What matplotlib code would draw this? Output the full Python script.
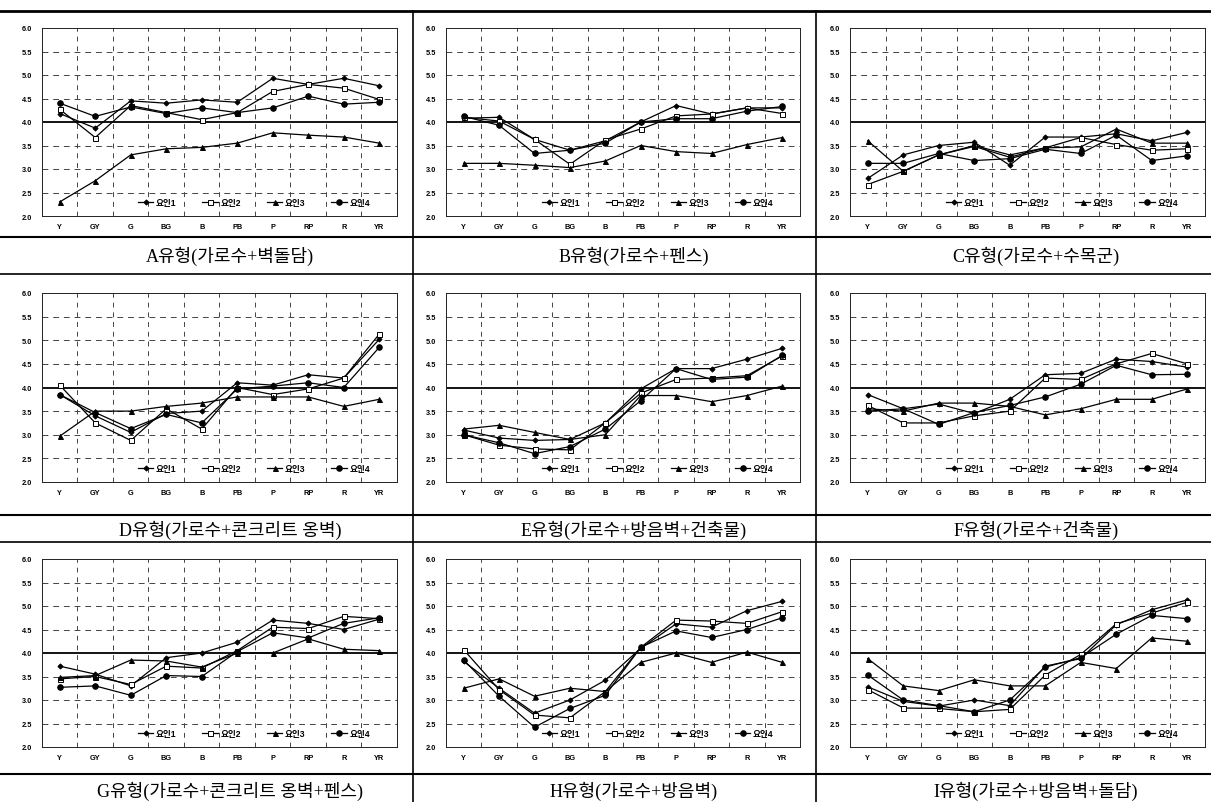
import numpy as np
import matplotlib.pyplot as plt
from matplotlib.lines import Line2D

plt.rcParams['font.family'] = ['Liberation Sans', 'Noto Sans CJK KR']

# ---------------- data ----------------
categories = ['Y', 'GY', 'G', 'BG', 'B', 'PB', 'P', 'RP', 'R', 'YR']
factor_names = ['요인1', '요인2', '요인3', '요인4']
captions = ['A유형(가로수+벽돌담)', 'B유형(가로수+펜스)', 'C유형(가로수+수목군)',
            'D유형(가로수+콘크리트 옹벽)', 'E유형(가로수+방음벽+건축물)', 'F유형(가로수+건축물)',
            'G유형(가로수+콘크리트 옹벽+펜스)', 'H유형(가로수+방음벽)', 'I유형(가로수+방음벽+돌담)']

A_1 = [4.18, 3.87, 4.45, 4.40, 4.47, 4.42, 4.93, 4.80, 4.93, 4.77]
A_2 = [4.27, 3.67, 4.35, 4.20, 4.05, 4.20, 4.65, 4.80, 4.72, 4.48]
A_3 = [2.30, 2.75, 3.30, 3.43, 3.46, 3.55, 3.77, 3.72, 3.68, 3.55]
A_4 = [4.40, 4.12, 4.32, 4.18, 4.30, 4.20, 4.30, 4.55, 4.38, 4.42]

B_1 = [4.08, 4.10, 3.63, 3.40, 3.60, 4.00, 4.35, 4.17, 4.30, 4.30]
B_2 = [4.10, 4.02, 3.63, 3.10, 3.62, 3.85, 4.13, 4.17, 4.30, 4.18]
B_3 = [3.12, 3.12, 3.08, 3.03, 3.17, 3.50, 3.37, 3.33, 3.52, 3.67]
B_4 = [4.12, 3.93, 3.33, 3.40, 3.55, 4.00, 4.07, 4.07, 4.23, 4.33]

C_1 = [2.80, 3.30, 3.50, 3.57, 3.08, 3.68, 3.68, 3.75, 3.60, 3.78]
C_2 = [2.67, 2.95, 3.30, 3.48, 3.25, 3.45, 3.67, 3.52, 3.40, 3.43]
C_3 = [3.60, 2.95, 3.30, 3.50, 3.30, 3.45, 3.47, 3.85, 3.55, 3.55]
C_4 = [3.12, 3.12, 3.33, 3.18, 3.22, 3.42, 3.33, 3.72, 3.18, 3.28]

D_1 = [3.85, 3.40, 3.05, 3.45, 3.50, 4.10, 4.05, 4.27, 4.20, 5.02]
D_2 = [4.05, 3.25, 2.88, 3.55, 3.12, 4.00, 3.85, 3.97, 4.20, 5.13]
D_3 = [2.97, 3.50, 3.50, 3.60, 3.67, 3.80, 3.80, 3.80, 3.60, 3.75]
D_4 = [3.85, 3.47, 3.13, 3.43, 3.25, 3.97, 4.03, 4.10, 4.00, 4.85]

E_1 = [3.10, 2.93, 2.88, 2.90, 3.25, 3.97, 4.40, 4.40, 4.60, 4.83]
E_2 = [3.00, 2.78, 2.70, 2.68, 3.25, 3.88, 4.17, 4.20, 4.25, 4.67]
E_3 = [3.12, 3.20, 3.05, 2.90, 3.00, 3.83, 3.83, 3.70, 3.83, 4.03]
E_4 = [3.00, 2.83, 2.60, 2.75, 3.12, 3.72, 4.40, 4.17, 4.22, 4.68]

F_1 = [3.85, 3.55, 3.65, 3.45, 3.75, 4.27, 4.30, 4.60, 4.55, 4.43]
F_2 = [3.62, 3.25, 3.25, 3.40, 3.50, 4.20, 4.17, 4.50, 4.72, 4.50]
F_3 = [3.55, 3.50, 3.67, 3.67, 3.60, 3.42, 3.55, 3.75, 3.75, 3.97]
F_4 = [3.50, 3.55, 3.22, 3.47, 3.62, 3.80, 4.07, 4.47, 4.27, 4.28]

G_1 = [3.72, 3.55, 3.30, 3.90, 4.00, 4.23, 4.70, 4.63, 4.50, 4.72]
G_2 = [3.45, 3.50, 3.33, 3.72, 3.68, 4.05, 4.55, 4.52, 4.78, 4.73]
G_3 = [3.48, 3.52, 3.85, 3.83, 3.70, 4.00, 4.00, 4.30, 4.08, 4.05]
G_4 = [3.27, 3.30, 3.10, 3.52, 3.50, 4.03, 4.43, 4.32, 4.63, 4.75]

H_1 = [3.82, 3.25, 2.72, 3.00, 3.42, 4.10, 4.62, 4.55, 4.90, 5.10]
H_2 = [4.07, 3.22, 2.68, 2.62, 3.18, 4.12, 4.70, 4.68, 4.63, 4.88]
H_3 = [3.25, 3.45, 3.08, 3.25, 3.18, 3.80, 4.00, 3.80, 4.02, 3.80]
H_4 = [3.85, 3.08, 2.42, 2.82, 3.10, 4.12, 4.47, 4.33, 4.50, 4.75]

I_1 = [3.28, 2.97, 2.87, 3.00, 2.88, 3.72, 3.88, 4.60, 4.92, 5.13]
I_2 = [3.22, 2.83, 2.82, 2.75, 2.80, 3.53, 3.97, 4.62, 4.85, 5.08]
I_3 = [3.88, 3.30, 3.20, 3.43, 3.30, 3.30, 3.80, 3.67, 4.32, 4.25]
I_4 = [3.53, 3.00, 2.88, 2.75, 3.00, 3.70, 3.90, 4.40, 4.80, 4.73]

panels = [(A_1, A_2, A_3, A_4), (B_1, B_2, B_3, B_4), (C_1, C_2, C_3, C_4),
          (D_1, D_2, D_3, D_4), (E_1, E_2, E_3, E_4), (F_1, F_2, F_3, F_4),
          (G_1, G_2, G_3, G_4), (H_1, H_2, H_3, H_4), (I_1, I_2, I_3, I_4)]

# ---------------- layout (pixels of the 1211x803 page) ----------------
W, H = 1211, 803
fig = plt.figure(figsize=(W / 100, H / 100), dpi=100)

def fx(x):
    return x / W

def fy(y):
    return 1 - y / H

col_left = [42, 446, 850]
col_right = [397, 800, 1205]
row_top = [29, 294, 560]
row_bot = [217, 483, 748]
cap_y = [256, 530, 791]
cap_x = [230, 634, 1036]

styles = [dict(marker='D', ms=2.6, mfc='black'),
          dict(marker='s', ms=3.6, mfc='white'),
          dict(marker='^', ms=3.6, mfc='black'),
          dict(marker='o', ms=4.0, mfc='black')]

x = np.arange(len(categories))
for k, series in enumerate(panels):
    r, c = divmod(k, 3)
    ax = fig.add_axes([fx(col_left[c]), fy(row_bot[r]),
                       fx(col_right[c] - col_left[c]), (row_bot[r] - row_top[r]) / H])
    ax.set_xlim(-0.5, len(categories) - 0.5)
    ax.set_ylim(2.0, 6.0)

    # grid: dashed at every 0.5 and between categories, solid at 4.0
    for yv in np.arange(2.5, 6.0, 0.5):
        if abs(yv - 4.0) < 1e-6:
            ax.axhline(yv, color='black', lw=1.3, zorder=1)
        else:
            ax.axhline(yv, color='#444444', lw=0.7, ls=(0, (6, 5)), zorder=1)
    for xv in np.arange(0.5, len(categories) - 1, 1.0):
        ax.axvline(xv, color='#444444', lw=0.7, ls=(0, (5, 5)), zorder=1)

    for vals, name, st in zip(series, factor_names, styles):
        ax.plot(x, vals, color='black', lw=0.9, mec='black', mew=0.7,
                label=name, zorder=3, **st)

    ax.set_xticks(x)
    ax.set_xticklabels(categories)
    ax.set_yticks(np.arange(2.0, 6.01, 0.5))
    ax.set_yticklabels([f'{v:.1f}' for v in np.arange(2.0, 6.01, 0.5)])
    ax.tick_params(length=0, labelsize=5.3, pad=7)
    ax.tick_params(axis='x', pad=5)
    for lab in ax.get_xticklabels() + ax.get_yticklabels():
        lab.set_fontweight('bold')
    for sp in ax.spines.values():
        sp.set_linewidth(0.7)
        sp.set_color('#222222')

    ax.legend(ncol=4, loc='lower left', bbox_to_anchor=(0.27, 0.05),
              frameon=False, prop=dict(size=6.2, weight='bold'),
              handlelength=1.8, handletextpad=0.3, columnspacing=3.0,
              borderaxespad=0, borderpad=0)

    fig.text(fx(cap_x[c]), fy(cap_y[r]), captions[k], ha='center', va='center',
             fontsize=13, family=['Liberation Serif', 'Noto Sans CJK KR'])

# ---------------- table rules ----------------
def hline(y, lw):
    fig.add_artist(Line2D([0, 1], [fy(y), fy(y)], color='black', lw=lw))

def vline(xp, lw):
    fig.add_artist(Line2D([fx(xp), fx(xp)], [fy(12), 0], color='black', lw=lw))

hline(12, 2.0)
hline(238, 1.5)
hline(275, 1.2)
hline(516, 1.5)
hline(543, 1.2)
hline(775, 1.5)
vline(413, 1.2)
vline(816, 1.2)

fig.savefig('out.png', dpi=100)
